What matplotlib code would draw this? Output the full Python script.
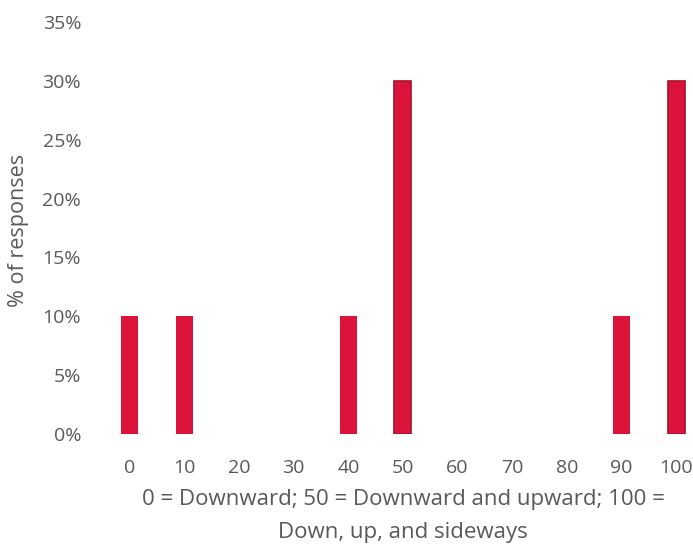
import numpy as np
import matplotlib.pyplot as plt
from matplotlib.ticker import PercentFormatter

# Distribuição das respostas por categoria
categories = ['0', '10', '20', '30', '40', '50', '60', '70', '80', '90', '100']
responses = [10, 10, 0, 0, 10, 30, 0, 0, 0, 10, 30]
y_ticks = [0, 5, 10, 15, 20, 25, 30, 35]

plt.rcParams['font.family'] = ['Open Sans', 'DejaVu Sans']
text_color = '#595959'

fig = plt.figure(figsize=(6.93, 5.48), dpi=100)
ax = fig.add_axes([102 / 693, 1 - 434 / 548, 591 / 693, 412 / 548])

x = np.arange(len(categories))
bars = ax.bar(x, responses, width=0.31, color='#dc143c')
# barras mais altas com borda escura
for b, v in zip(bars, responses):
    if v >= 30:
        b.set_edgecolor('#a8102c')
        b.set_linewidth(1.2)

ax.set_xlim(-0.51, 10.31)
ax.set_ylim(0, 35)
ax.set_xticks(x)
ax.set_xticklabels(categories)
ax.set_yticks(y_ticks)
ax.yaxis.set_major_formatter(PercentFormatter(decimals=0))

for s in ax.spines.values():
    s.set_visible(False)
ax.tick_params(length=0, labelsize=14, colors=text_color)
ax.tick_params(axis='y', pad=15)
ax.tick_params(axis='x', pad=18)

fig.text(19 / 693, 1 - 230 / 548, '% of responses', rotation=90,
         ha='center', va='center', fontsize=15.5, color=text_color)
fig.text(403 / 693, 1 - 516 / 548,
         '0 = Downward; 50 = Downward and upward; 100 =\nDown, up, and sideways',
         ha='center', va='center', fontsize=16, color=text_color, linespacing=1.7)

fig.savefig('out.png', dpi=100)
